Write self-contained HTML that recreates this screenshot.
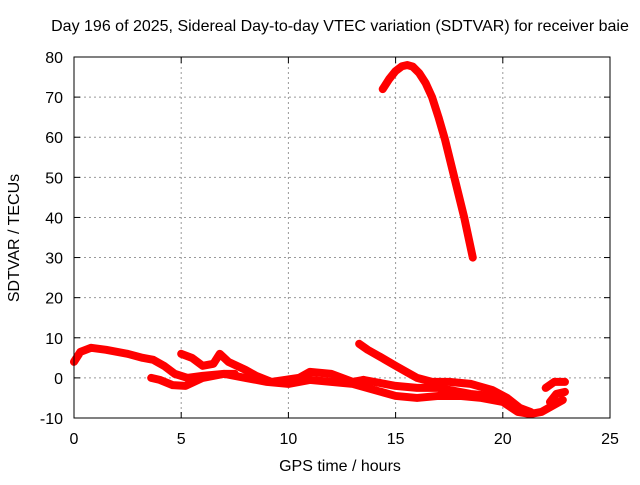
<!DOCTYPE html>
<html><head><meta charset="utf-8"><style>
body{margin:0;background:#fff}
svg text{font-family:"Liberation Sans",sans-serif;font-size:16px;fill:#000}
</style></head><body>
<svg id="c" width="640" height="480">
<text x="340" y="31" text-anchor="middle">Day 196 of 2025, Sidereal Day-to-day VTEC variation (SDTVAR) for receiver baie</text>
<text x="340" y="471" text-anchor="middle">GPS time / hours</text>
<text transform="translate(19,238) rotate(-90)" text-anchor="middle">SDTVAR / TECUs</text>
<g id="grid"></g><g id="ticks"></g><g id="series"></g>
<rect x="74" y="57" width="536" height="361" fill="none" stroke="#000" stroke-width="1"/>
</svg>
<script>
const xTicks=[0,5,10,15,20,25];
const yTicks=[-10,0,10,20,30,40,50,60,70,80];
const trackPeak=[[14.4,72],[14.7,74.5],[15,76.5],[15.3,77.7],[15.55,78],[15.8,77.6],[16.1,76],[16.4,73.5],[16.7,70],[17,65],[17.3,59.5],[17.6,53],[17.9,46.5],[18.2,40],[18.4,35],[18.6,30]];
const trackMain=[[0,4],[0.3,6.5],[0.8,7.5],[1.5,7],[2.5,6],[3.2,5],[3.7,4.5],[4.2,3],[4.7,1],[5.3,0],[6,0.5],[7,1],[8,0],[9,-1],[10,-1.5],[11,-0.5],[12,-1],[13,-1.5],[14,-3],[15,-4.5],[16,-5],[17,-4.5],[18,-4.5],[19,-5],[20,-6],[20.7,-8.5],[21.3,-9],[21.8,-8.5],[22.3,-7],[22.8,-5.5]];
const trackUpper=[[5,6],[5.5,5],[6,3],[6.5,3.5],[6.8,6],[7.2,4],[8,2],[8.5,0.5],[9.2,-1],[10.5,0],[11,1.5],[12,1],[13,-1],[13.5,-0.5]];
const trackLower=[[3.6,0],[4,-0.5],[4.6,-1.8],[5.2,-2],[6,0],[7,1],[7.5,1]];
const trackRise=[[13.3,8.5],[13.7,7],[14.2,5.5],[15,3],[15.5,1.5],[16,0],[16.7,-1],[17.5,-1],[18.5,-1.5],[19.5,-3],[20.2,-5],[20.8,-7.5],[21.3,-8.5]];
const trackMid=[[13.5,-0.5],[14,-1],[15,-2],[16,-2.5],[17,-2.5],[17.5,-3],[18.5,-4],[19.5,-4.5],[20.3,-5.5]];
const trackEnd=[[22,-2.5],[22.4,-1],[22.9,-1]];
const trackEnd2=[[22.2,-6],[22.5,-4],[22.9,-3.5]];
const sx=h=>74+h*536/25, sy=v=>418-(v+10)*361/90;
const NS='http://www.w3.org/2000/svg';
const g=document.getElementById('grid'),t=document.getElementById('ticks'),s=document.getElementById('series');
function mk(tag,at,p){const e=document.createElementNS(NS,tag);for(const k in at)e.setAttribute(k,at[k]);p.appendChild(e);return e;}
xTicks.forEach(v=>{const x=sx(v);
 if(v>0&&v<25){const l=mk('line',{x1:x,x2:x,y1:57,y2:418,stroke:'#999','stroke-dasharray':'2,3'},g);
 
 }
 const tx=mk('text',{x:x,y:444,'text-anchor':'middle'},t);tx.textContent=v;
 
 
 mk('line',{x1:x,x2:x,y1:418,y2:412,stroke:'#000'},t);mk('line',{x1:x,x2:x,y1:57,y2:63,stroke:'#000'},t);});
yTicks.forEach(v=>{const y=sy(v);
 if(v>-10&&v<80){const l=mk('line',{x1:74,x2:610,y1:y,y2:y,stroke:'#999','stroke-dasharray':'2,3'},g);
 
 }
 const tx=mk('text',{x:63,y:y+6,'text-anchor':'end'},t);tx.textContent=v;
 
 
 mk('line',{x1:74,x2:80,y1:y,y2:y,stroke:'#000'},t);mk('line',{x1:610,x2:604,y1:y,y2:y,stroke:'#000'},t);});
[trackPeak,trackMain,trackUpper,trackLower,trackRise,trackMid,trackEnd,trackEnd2].forEach((tr,i)=>{
 const p=mk('polyline',{points:tr.map(d=>sx(d[0])+','+sy(d[1])).join(' '),fill:'none',stroke:'#f00','stroke-width':8,'stroke-linejoin':'round','stroke-linecap':'round'},s);
 
 
});
</script>
</body></html>
